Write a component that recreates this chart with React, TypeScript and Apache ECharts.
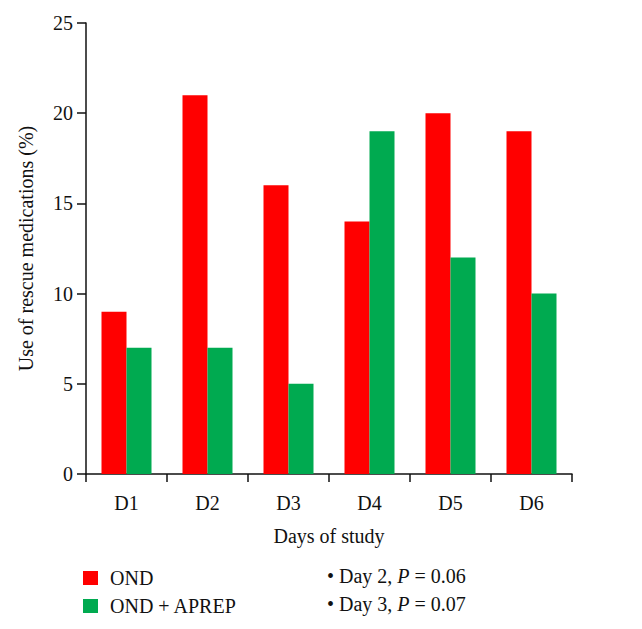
import React, { useEffect, useRef } from "react";
import * as echarts from "echarts";

const categories = ["D1", "D2", "D3", "D4", "D5", "D6"];
const ondValues = [9, 21, 16, 14, 20, 19];
const aprepValues = [7, 7, 5, 19, 12, 10];
const seriesNames = ["OND", "OND + APREP"];
const notes = [
  { day: "Day 2", p: "0.06" },
  { day: "Day 3", p: "0.07" },
];

const FONT = "'Liberation Serif', 'DejaVu Serif', serif";
const FS = 20;

export default function App() {
  const ref = useRef<HTMLDivElement>(null);
  useEffect(() => {
    document.body.style.margin = "0";
    if (!ref.current) return;
    const chart = echarts.init(ref.current, undefined, { renderer: "svg" });
    chart.setOption({
      animation: false,
      backgroundColor: "#ffffff",
      textStyle: { fontFamily: FONT },
      grid: { left: 86, right: 70, top: 23, bottom: 155, containLabel: false },
      legend: {
        orient: "vertical",
        left: 78,
        top: 563,
        itemWidth: 15,
        itemHeight: 14,
        itemGap: 8,
        icon: "rect",
        textStyle: { fontFamily: FONT, fontSize: FS, color: "#111", padding: [0, 0, 0, 7] },
        data: seriesNames,
      },
      xAxis: {
        type: "category",
        data: categories,
        boundaryGap: true,
        name: "Days of study",
        nameLocation: "middle",
        nameGap: 52,
        nameTextStyle: { fontFamily: FONT, fontSize: FS, color: "#111" },
        axisLine: { lineStyle: { color: "#111", width: 1.5 } },
        axisTick: { show: true, length: 8, lineStyle: { color: "#111", width: 1.5 } },
        axisLabel: { margin: 19, fontFamily: FONT, fontSize: FS, color: "#111" },
      },
      yAxis: {
        type: "value",
        min: 0,
        max: 25,
        interval: 5,
        name: "Use of rescue medications (%)",
        nameLocation: "middle",
        nameGap: 50,
        nameTextStyle: { fontFamily: FONT, fontSize: FS, color: "#111" },
        axisLine: { show: true, lineStyle: { color: "#111", width: 1.5 } },
        axisTick: { show: true, length: 9, lineStyle: { color: "#111", width: 1.5 } },
        axisLabel: { margin: 13, fontFamily: FONT, fontSize: FS, color: "#111" },
        splitLine: { show: false },
      },
      series: [
        {
          name: seriesNames[0],
          type: "bar",
          data: ondValues,
          barWidth: 25,
          barGap: "0%",
          itemStyle: { color: "#ff0000" },
        },
        {
          name: seriesNames[1],
          type: "bar",
          data: aprepValues,
          barWidth: 25,
          barGap: "0%",
          itemStyle: { color: "#00aa50" },
        },
      ],
      graphic: notes.map((n, i) => ({
        type: "text",
        left: 327,
        top: 566 + i * 28,
        style: {
          text: `{n|• ${n.day}, }{i|P}{n| = ${n.p}}`,
          rich: {
            n: { fontFamily: FONT, fontSize: FS, fill: "#111" },
            i: { fontFamily: FONT, fontSize: FS, fontStyle: "italic", fill: "#111" },
          },
        },
      })),
    });
    return () => chart.dispose();
  }, []);
  return <div ref={ref} style={{ width: 642, height: 629 }} />;
}
